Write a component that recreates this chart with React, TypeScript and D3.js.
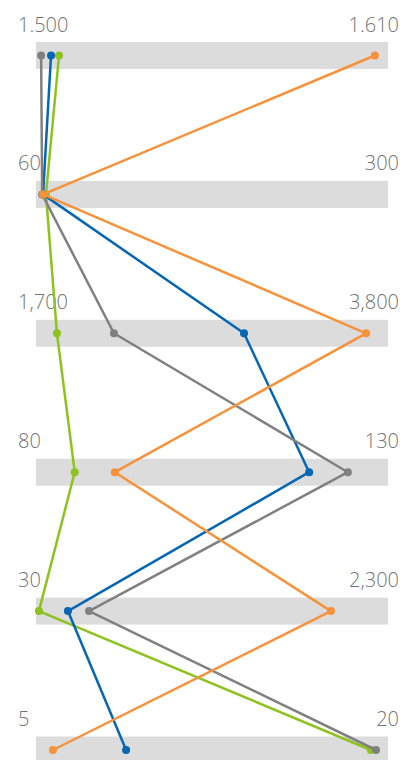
import React from "react";
import * as d3 from "d3";

const minLabels = ["1.500", "60", "1,700", "80", "30", "5"];
const maxLabels = ["1.610", "300", "3,800", "130", "2,300", "20"];
const mins = [1.5, 60, 1700, 80, 30, 5];
const maxs = [1.61, 300, 3800, 130, 2300, 20];

const seriesNames = ["green", "blue", "gray", "orange"];
const seriesColors = ["#8dc21f", "#0466b4", "#808080", "#f7923a"];
const greenValues = [1.5072, 66.8, 1825, 85.5, 49, 19.27];
const blueValues = [1.5047, 64.8, 2941, 118.8, 236, 8.84];
const grayValues = [1.5016, 64.2, 2165, 124.3, 372, 19.49];
const orangeValues = [1.6059, 64.8, 3669, 91.2, 1932, 5.72];
const seriesValues = [greenValues, blueValues, grayValues, orangeValues];

const W = 417;
const H = 760;

export default function App() {
  const bandLeft = 36;
  const bandRight = 388;
  const y = d3
    .scaleLinear()
    .domain([0, minLabels.length - 1])
    .range([55.5, 750]);
  const xScales = mins.map((m, i) =>
    d3.scaleLinear().domain([m, maxs[i]]).range([bandLeft, bandRight])
  );
  const line = d3
    .line<[number, number]>()
    .x((d) => d[0])
    .y((d) => d[1]);

  return (
    <svg
      width={W}
      height={H}
      style={{ position: "absolute", left: 0, top: 0 }}
      fontFamily="'Open Sans', sans-serif"
    >
      {minLabels.map((lab, i) => (
        <g key={"row" + i}>
          <rect
            x={bandLeft}
            y={y(i) - 13.5}
            width={bandRight - bandLeft}
            height={27}
            fill="#dcdcdc"
          />
          <text x={18} y={y(i) - 24} fontSize={20} fontWeight={300} fill="#737373">
            {lab}
          </text>
          <text
            x={399}
            y={y(i) - 24}
            fontSize={20}
            fontWeight={300}
            fill="#737373"
            textAnchor="end"
          >
            {maxLabels[i]}
          </text>
        </g>
      ))}
      {seriesValues.map((vals, s) => {
        const pts: [number, number][] = vals.map((v, i) => [
          xScales[i](v),
          y(i),
        ]);
        return (
          <g key={seriesNames[s]}>
            <path
              d={line(pts) || ""}
              fill="none"
              stroke={seriesColors[s]}
              strokeWidth={2.5}
              strokeLinejoin="round"
            />
            {pts.map((p, i) => (
              <circle
                key={i}
                cx={p[0]}
                cy={p[1]}
                r={4}
                fill={seriesColors[s]}
              />
            ))}
          </g>
        );
      })}
    </svg>
  );
}
